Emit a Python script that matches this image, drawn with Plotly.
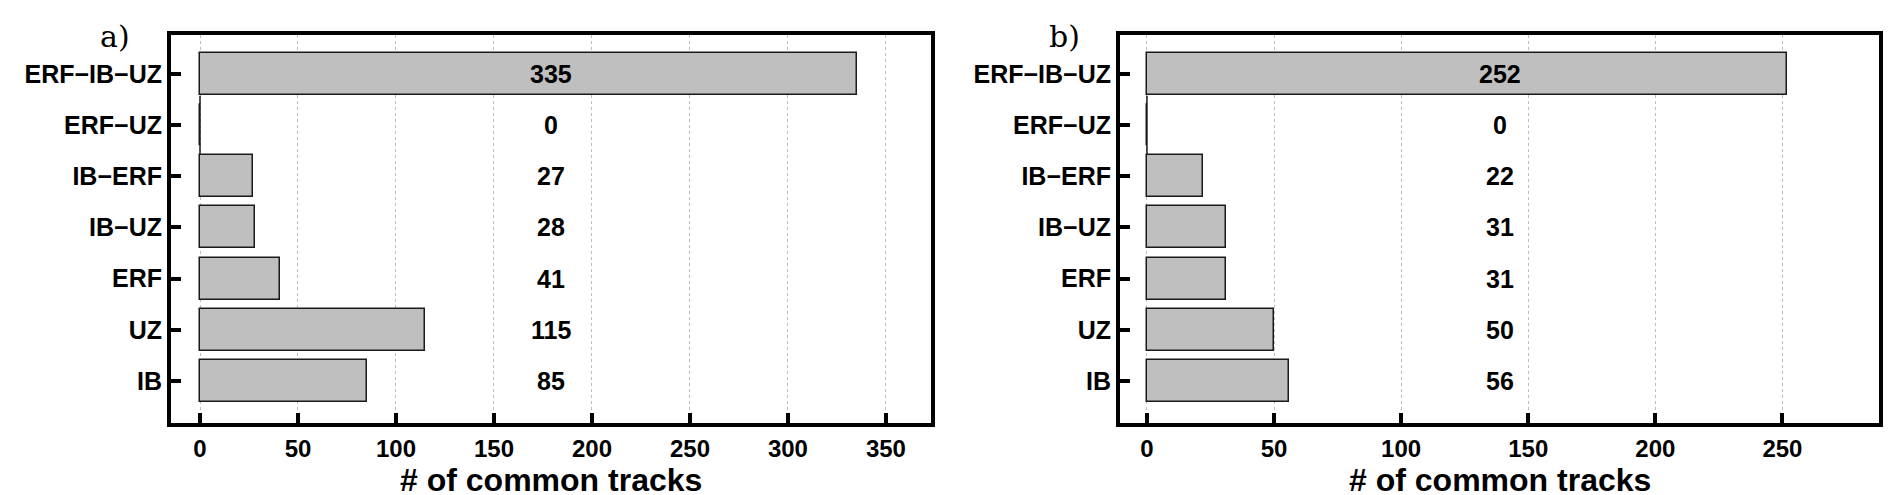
import plotly.graph_objects as go

# categories listed bottom -> top
categories = ["IB", "UZ", "ERF", "IB−UZ", "IB−ERF", "ERF−UZ", "ERF−IB−UZ"]
tracks_a = [85, 115, 41, 28, 27, 0, 335]
tracks_b = [56, 50, 31, 31, 22, 0, 252]
ticks_a = [0, 50, 100, 150, 200, 250, 300, 350]
ticks_b = [0, 50, 100, 150, 200, 250]
panel_labels = ["a)", "b)"]
x_title = "# of common tracks"

W, H = 1892, 495
font_family = "Liberation Sans, Arial, sans-serif"
edge = "#1a1a1a"

fig = go.Figure()

panels = [
    dict(vals=tracks_a, ticks=ticks_a, xr=[-14.8, 373], dom=[163 / W, 923 / W], ax="x", ay="y"),
    dict(vals=tracks_b, ticks=ticks_b, xr=[-10.6, 288], dom=[1112 / W, 1871 / W], ax="x2", ay="y2"),
]
ydom = [1 - 415 / H, 1 - 27 / H]

for i, p in enumerate(panels):
    fig.add_trace(go.Bar(
        x=p["vals"], y=categories, orientation="h", width=0.82,
        marker=dict(color="#bfbfbf", line=dict(color=edge, width=1.5)),
        xaxis=p["ax"], yaxis=p["ay"], showlegend=False, hoverinfo="x+y",
    ))
    # zero-length bars still show their edge in the original
    zeros = [(v, c) for v, c in zip(p["vals"], categories) if v == 0]
    if zeros:
        fig.add_trace(go.Scatter(
            x=[z[0] for z in zeros], y=[z[1] for z in zeros], mode="markers",
            marker=dict(symbol="line-ns-open", size=42, color=edge, line=dict(color=edge, width=1.5)),
            xaxis=p["ax"], yaxis=p["ay"], showlegend=False, hoverinfo="skip",
        ))
    xa = "xaxis" if i == 0 else "xaxis2"
    ya = "yaxis" if i == 0 else "yaxis2"
    fig.update_layout({
        xa: dict(
            domain=p["dom"], anchor=p["ay"], range=p["xr"],
            tickmode="array", tickvals=p["ticks"],
            ticks="inside", ticklen=10, tickwidth=4, tickcolor="black",
            showline=True, linewidth=4, linecolor="black", mirror=True,
            showgrid=True, gridcolor="#bdbdbd", gridwidth=1, griddash="dot",
            zeroline=False, ticklabelstandoff=1,
            tickfont=dict(family=font_family, size=24, color="black", weight="bold"),
        ),
        ya: dict(
            domain=ydom, anchor=p["ax"], range=[-0.82, 6.76],
            type="category", categoryorder="array", categoryarray=categories,
            ticks="inside", ticklen=10, tickwidth=4, tickcolor="black",
            showline=True, linewidth=4, linecolor="black", mirror=True,
            showgrid=False, zeroline=False,
            tickfont=dict(family=font_family, size=25, color="black", weight="bold"),
        ),
    })
    xref = ("x" if i == 0 else "x2") + " domain"
    yref = "y" if i == 0 else "y2"
    for c, v in zip(categories, p["vals"]):
        fig.add_annotation(
            x=0.5, y=c, xref=xref, yref=yref, text=str(v), showarrow=False,
            font=dict(family=font_family, size=25, color="black", weight="bold"),
        )
    # axis title
    fig.add_annotation(
        x=0.5, y=1 - 472 / H, xref=xref, yref="paper", text=x_title, showarrow=False,
        xanchor="center", yanchor="middle",
        font=dict(family=font_family, size=32, color="black", weight="bold"),
    )
    fig.add_annotation(
        x=p["dom"][0] - 56 / W, y=1 - 28 / H, xref="paper", yref="paper",
        text=panel_labels[i], showarrow=False, xanchor="center", yanchor="middle",
        font=dict(family="DejaVu Serif, serif", size=30, color="black"),
    )

fig.update_layout(
    width=W, height=H,
    margin=dict(l=0, r=0, t=0, b=0),
    paper_bgcolor="white", plot_bgcolor="white",
    bargap=0,
)

fig.write_html("out.html")
